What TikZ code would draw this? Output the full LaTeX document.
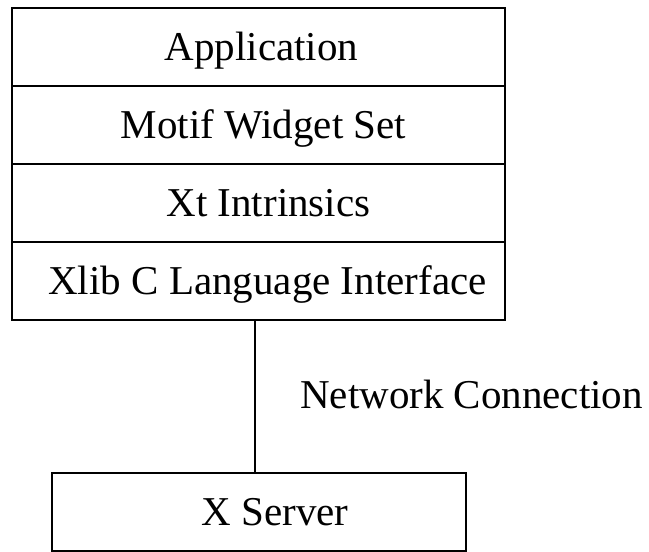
\documentclass[tikz,border=0pt]{standalone}
\usepackage{fontspec}
\setmainfont{Liberation Serif}
\usetikzlibrary{positioning}

\tikzset{
    layer/.style={draw, line width=1.5pt, outer sep=0pt, inner sep=0pt,
        minimum width=493pt, minimum height=78pt,
        text height=27pt, text depth=0pt, font=\fontsize{41}{48}\selectfont},
    lbl/.style={font=\fontsize{41}{48}\selectfont, inner sep=0pt}
}

\begin{document}
\begin{tikzpicture}[x=1pt, y=-1pt]
            \useasboundingbox (0,0) rectangle (649,552);

            % layered stack
            \node[layer] (app) at (258.5,47) {\hspace*{6pt}Application};
            \node[layer, below=0pt of app] (motif) {\hspace*{10pt}Motif Widget Set};
            \node[layer, below=0pt of motif] (xt) {\hspace*{20pt}Xt Intrinsics};
            \node[layer, below=0pt of xt] (xlib) {\hspace*{18pt}Xlib C Language Interface};

            % server at the other end of the wire
            \node[layer, minimum width=414pt, below=153pt of xlib, xshift=0.5pt] (server) {\hspace*{32pt}X Server};
            \draw[line width=1.5pt] ([xshift=-3.5pt]xlib.south) -- ([xshift=-3.5pt]xlib.south |- server.north);
            \node[lbl, anchor=base west] (net) at (300,408) {Network Connection};
        \end{tikzpicture}
\end{document}
